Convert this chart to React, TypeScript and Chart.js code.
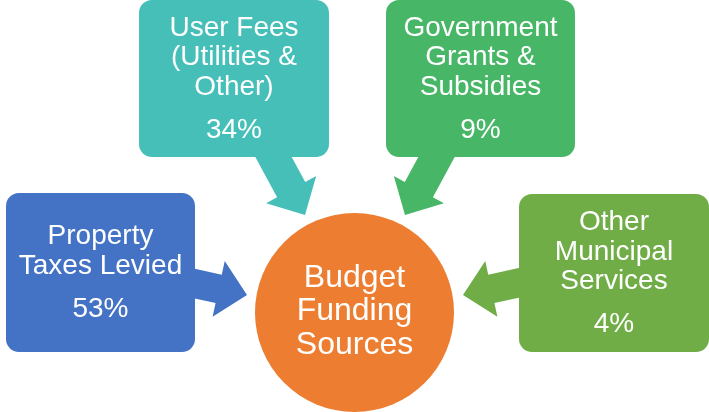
import React, { useEffect, useRef } from "react";
import { Chart, registerables } from "chart.js";

Chart.register(...registerables);

// ---- data ----
const sourceLabels: string[][] = [
  ["Property", "Taxes Levied"],
  ["User Fees", "(Utilities &", "Other)"],
  ["Government", "Grants &", "Subsidies"],
  ["Other", "Municipal", "Services"],
];
const sourceShares: number[] = [53, 34, 9, 4];
const centerLabel: string[] = ["Budget", "Funding", "Sources"];

// ---- styles / layout (not data) ----
const sourceColors = ["#4472C4", "#45BFB8", "#47B666", "#70AD47"];
const centerColor = "#ED7D31";
const boxes = [
  { x0: 6, y0: 193, x1: 195, y1: 352 },
  { x0: 139, y0: 0, x1: 329, y1: 157 },
  { x0: 386, y0: 0, x1: 575, y1: 157 },
  { x0: 519, y0: 194, x1: 709, y1: 352 },
];
const arrows = [
  { sx: 185, sy: 281.5, tx: 247, ty: 295, sw: 29 },
  { sx: 268.7, sy: 148.2, tx: 305, ty: 215, sw: 32 },
  { sx: 441.3, sy: 148.2, tx: 405, ty: 215, sw: 32 },
  { sx: 525, sy: 281.5, tx: 463, ty: 295, sw: 29 },
];
const center = { x: 354.5, y: 312.5, r: 99.5 };
const FONT = '"Liberation Sans", Arial, Helvetica, sans-serif';

const diagramPlugin = {
  id: "diagram",
  beforeDatasetsDraw(chart: any) {
    const { ctx, scales } = chart;
    const px = (v: number) => scales.x.getPixelForValue(v);
    const py = (v: number) => scales.y.getPixelForValue(v);
    ctx.save();
    // arrows
    arrows.forEach((a, i) => {
      const dx = a.tx - a.sx, dy = a.ty - a.sy;
      const len = Math.hypot(dx, dy);
      const ux = dx / len, uy = dy / len;
      const nx = -uy, ny = ux;
      const sw = a.sw, hw = 57, hl = 29;
      const bx = a.tx - ux * hl, by = a.ty - uy * hl;
      const pts = [
        [a.sx + nx * sw / 2, a.sy + ny * sw / 2],
        [bx + nx * sw / 2, by + ny * sw / 2],
        [bx + nx * hw / 2, by + ny * hw / 2],
        [a.tx, a.ty],
        [bx - nx * hw / 2, by - ny * hw / 2],
        [bx - nx * sw / 2, by - ny * sw / 2],
        [a.sx - nx * sw / 2, a.sy - ny * sw / 2],
      ];
      ctx.beginPath();
      pts.forEach(([x, y], k) => (k ? ctx.lineTo(px(x), py(y)) : ctx.moveTo(px(x), py(y))));
      ctx.closePath();
      ctx.fillStyle = sourceColors[i];
      ctx.fill();
    });
    // boxes
    boxes.forEach((b, i) => {
      const x0 = px(b.x0), x1 = px(b.x1), y0 = py(b.y0), y1 = py(b.y1);
      ctx.beginPath();
      (ctx as any).roundRect(x0, y0, x1 - x0, y1 - y0, 13);
      ctx.fillStyle = sourceColors[i];
      ctx.fill();
      // text
      const lines = sourceLabels[i];
      const lh = 29.5, gap = 43;
      const span = (lines.length - 1) * lh + gap;
      const cx = (x0 + x1) / 2;
      const cy = (y0 + y1) / 2 + 0.5;
      let y = cy - span / 2;
      ctx.fillStyle = "#FFFFFF";
      ctx.font = `28px ${FONT}`;
      ctx.textAlign = "center";
      ctx.textBaseline = "middle";
      lines.forEach((t, k) => ctx.fillText(t, cx, y + k * lh));
      ctx.fillText(`${sourceShares[i]}%`, cx, y + (lines.length - 1) * lh + gap);
    });
    ctx.restore();
  },
  afterDatasetsDraw(chart: any) {
    const { ctx, scales } = chart;
    const cx = scales.x.getPixelForValue(center.x);
    const cy = scales.y.getPixelForValue(center.y);
    ctx.save();
    ctx.fillStyle = "#FFFFFF";
    ctx.font = `32px ${FONT}`;
    ctx.textAlign = "center";
    ctx.textBaseline = "middle";
    const lh = 33.5;
    centerLabel.forEach((t, k) => ctx.fillText(t, cx, cy - 1 + (k - 1) * lh));
    ctx.restore();
  },
};

export default function App() {
  const ref = useRef<HTMLCanvasElement | null>(null);
  useEffect(() => {
    if (!ref.current) return;
    const chart = new Chart(ref.current, {
      type: "bubble",
      data: {
        datasets: [
          {
            label: centerLabel.join(" "),
            data: [{ x: center.x, y: center.y, r: center.r }],
            backgroundColor: centerColor,
            borderWidth: 0,
            hoverRadius: 0,
            clip: false,
          } as any,
        ],
      },
      options: {
        animation: false,
        responsive: false,
        maintainAspectRatio: false,
        layout: { padding: 0, autoPadding: false },
        plugins: { legend: { display: false }, tooltip: { enabled: false } },
        events: [],
        scales: {
          x: { type: "linear", min: 0, max: 709, display: false },
          y: { type: "linear", min: 0, max: 412, reverse: true, display: false },
        },
      },
      plugins: [diagramPlugin],
    });
    return () => chart.destroy();
  }, []);
  return (
    <div style={{ position: "fixed", left: 0, top: 0, width: 709, height: 412, background: "#fff" }}>
      <canvas ref={ref} width={709} height={412} style={{ display: "block" }} />
    </div>
  );
}
